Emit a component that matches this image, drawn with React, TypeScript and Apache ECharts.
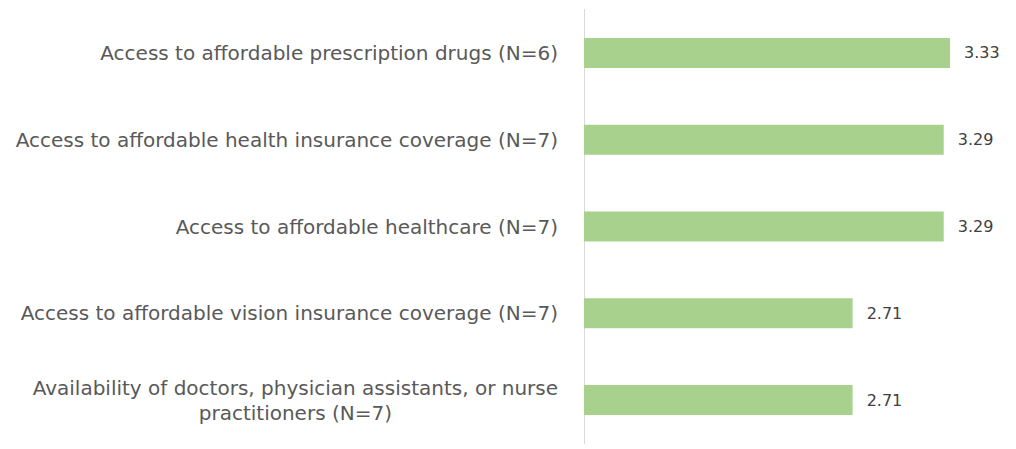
import React, { useEffect, useRef } from "react";
import * as echarts from "echarts";

const categories = [
  "Access to affordable prescription drugs (N=6)",
  "Access to affordable health insurance coverage (N=7)",
  "Access to affordable healthcare (N=7)",
  "Access to affordable vision insurance coverage (N=7)",
  "Availability of doctors, physician assistants, or nurse\npractitioners (N=7)",
];
const values = [3.33, 3.29, 3.29, 2.71, 2.71];
const axisMin = 1;
const axisMax = 3.75;

export default function App() {
  const ref = useRef<HTMLDivElement>(null);
  useEffect(() => {
    if (!ref.current) return;
    const chart = echarts.init(ref.current, null, { renderer: "svg" });
    chart.setOption({
      animation: false,
      backgroundColor: "#ffffff",
      grid: { left: 584, right: 0, top: 9.5, bottom: 5.5, containLabel: false },
      xAxis: {
        type: "value",
        min: axisMin,
        max: axisMax,
        show: false,
      },
      yAxis: {
        type: "category",
        data: categories,
        inverse: true,
        axisLine: { show: true, lineStyle: { color: "#d9d9d9", width: 1 } },
        axisTick: { show: false },
        splitLine: { show: false },
        axisLabel: {
          margin: 26,
          color: "#595959",
          fontFamily: "DejaVu Sans",
          fontSize: 20,
          formatter: (v: string) =>
            v
              .split("\n")
              .map((l) => `{c|${l}}`)
              .join("\n"),
          rich: {
            c: {
              align: "center",
              color: "#595959",
              fontFamily: "DejaVu Sans",
              fontSize: 20,
              lineHeight: 25,
            },
          },
        },
      },
      series: [
        {
          type: "bar",
          data: values,
          barWidth: 30,
          itemStyle: { color: "#a9d18e" },
          label: {
            show: true,
            position: "right",
            distance: 14,
            color: "#404040",
            fontFamily: "DejaVu Sans",
            fontSize: 16,
            formatter: (p: any) => Number(p.value).toFixed(2),
          },
        },
      ],
    });
    return () => chart.dispose();
  }, []);
  return (
    <div
      ref={ref}
      style={{ position: "absolute", left: 0, top: 0, width: 1016, height: 449 }}
    />
  );
}
